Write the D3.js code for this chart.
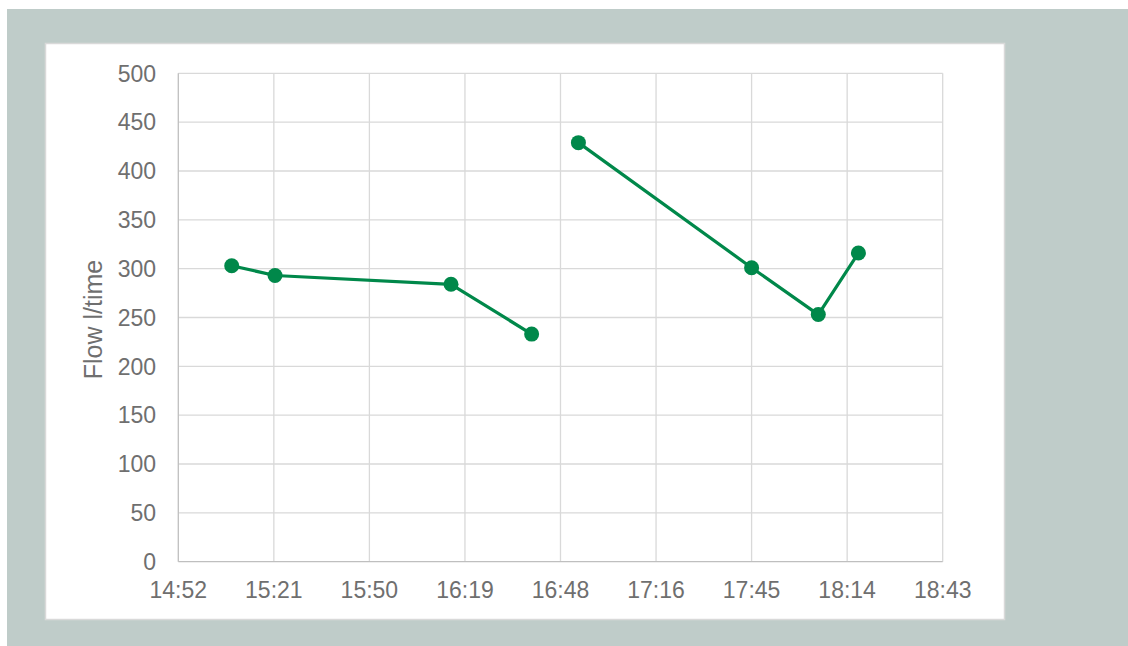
<!DOCTYPE html>
<html lang="en">
<head>
    <meta charset="UTF-8">
    <title>Flow l/time</title>
    <script src="https://d3js.org/d3.v7.min.js"></script>
    <style>
        body { margin: 0; background: #ffffff; }
        svg { display: block; }
        .tick_label { font-family: "Liberation Sans", Arial, sans-serif; font-size: 23px; fill: #6f6f6f; }
        .axis_title { font-family: "Liberation Sans", Arial, sans-serif; font-size: 25px; fill: #6f6f6f; }
    </style>
</head>
<body>
<svg width="1128" height="646"></svg>

<script>
    // measurement times and flow values (null = missing reading, breaks the line)
    const times  = ["15:08:54", "15:21:57", "16:15:00", "16:39:18", "16:46:00", "16:53:24", "17:45:36", "18:05:42", "18:17:48"];
    const flows  = [303, 293, 284, 233, null, 429, 301, 253, 316];

    // axis ticks (Excel date axis, steps of 0.02 day)
    const xTickLabels = ["14:52", "15:21", "15:50", "16:19", "16:48", "17:16", "17:45", "18:14", "18:43"];
    const yTicks = [0, 50, 100, 150, 200, 250, 300, 350, 400, 450, 500];

    const svg = d3.select("svg");

    // outer background + white chart panel
    svg.append("rect").attr("x", 7).attr("y", 9).attr("width", 1121).attr("height", 637).attr("fill", "#bfccc9");
    svg.append("rect").attr("x", 45.5).attr("y", 43.5).attr("width", 959).attr("height", 576)
        .attr("fill", "#ffffff").attr("stroke", "#d9d9d9").attr("stroke-width", 1.5);

    const pLeft = 178.3, pRight = 942.7, pTop = 73.3, pBottom = 561.7;

    function toDay(t) {
        const p = t.split(":");
        return (+p[0] * 3600 + +p[1] * 60 + +(p[2] || 0)) / 86400;
    }

    const x = d3.scaleLinear().domain([0.62, 0.78]).range([pLeft, pRight]);
    const y = d3.scaleLinear().domain([0, 500]).range([pBottom, pTop]);
    const xTicks = xTickLabels.map((d, i) => 0.62 + i * 0.02);

    const data = times.map((t, i) => ({t: toDay(t), v: flows[i]}));

    // gridlines
    const grid = svg.append("g");
    grid.selectAll(".hg").data(yTicks.slice(1)).enter().append("line")
        .attr("x1", pLeft).attr("x2", pRight)
        .attr("y1", d => y(d)).attr("y2", d => y(d))
        .attr("stroke", "#d9d9d9").attr("stroke-width", 1.3);
    grid.selectAll(".vg").data(xTicks.slice(1)).enter().append("line")
        .attr("x1", d => x(d)).attr("x2", d => x(d))
        .attr("y1", pTop).attr("y2", pBottom)
        .attr("stroke", "#d9d9d9").attr("stroke-width", 1.3);

    // axis lines
    svg.append("line").attr("x1", pLeft).attr("x2", pLeft).attr("y1", pTop).attr("y2", pBottom)
        .attr("stroke", "#bfbfbf").attr("stroke-width", 1.3);
    svg.append("line").attr("x1", pLeft).attr("x2", pRight).attr("y1", pBottom).attr("y2", pBottom)
        .attr("stroke", "#bfbfbf").attr("stroke-width", 1.3);

    // tick labels
    svg.selectAll(".yl").data(yTicks).enter().append("text")
        .attr("class", "tick_label")
        .attr("x", 156).attr("y", d => y(d))
        .attr("dy", "0.36em")
        .attr("text-anchor", "end")
        .text(d => d);

    svg.selectAll(".xl").data(xTicks).enter().append("text")
        .attr("class", "tick_label")
        .attr("x", d => x(d)).attr("y", 598)
        .attr("text-anchor", "middle")
        .text((d, i) => xTickLabels[i]);

    // y axis title
    svg.append("text").attr("class", "axis_title")
        .attr("transform", "translate(102," + (y(250) + 2) + ") rotate(-90)")
        .attr("text-anchor", "middle")
        .text("Flow l/time");

    // line + markers
    const line = d3.line()
        .defined(d => d.v !== null)
        .x(d => x(d.t))
        .y(d => y(d.v));

    svg.append("path").datum(data)
        .attr("d", line)
        .attr("fill", "none")
        .attr("stroke", "#00884a")
        .attr("stroke-width", 3.2)
        .attr("stroke-linejoin", "round");

    svg.selectAll(".pt").data(data.filter(d => d.v !== null)).enter().append("circle")
        .attr("cx", d => x(d.t)).attr("cy", d => y(d.v))
        .attr("r", 7.5)
        .attr("fill", "#00884a");
</script>
</body>
</html>
